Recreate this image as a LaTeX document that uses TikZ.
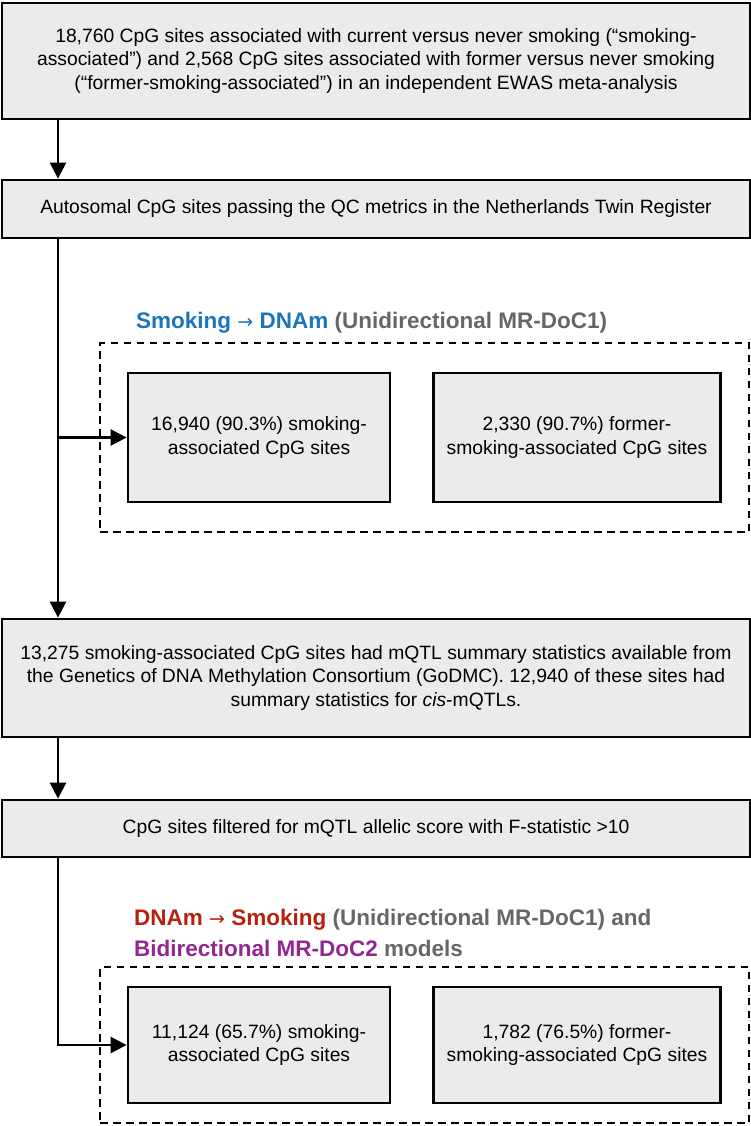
\documentclass[tikz,border=0pt]{standalone}
\usepackage{fontspec}
\setmainfont{Liberation Sans}
\newfontfamily\arrowfont{DejaVu Sans}
\usetikzlibrary{arrows.meta}
\definecolor{boxgray}{HTML}{EBEBEB}
\definecolor{titleblue}{HTML}{1A75BC}
\definecolor{titlered}{HTML}{B5200F}
\definecolor{titlepurple}{HTML}{92278F}
\definecolor{titlegray}{HTML}{666666}
\newcommand{\causes}{{\arrowfont\mdseries\fontsize{19}{31}\selectfont →}}
\tikzset{
  stepbox/.style={draw, line width=2.8pt, fill=boxgray, align=center, inner sep=0pt,
    font=\fontsize{19.3}{23.3}\selectfont},
  groupbox/.style={draw, line width=2.6pt, dash pattern=on 7.5pt off 5.5pt, inner sep=0pt},
  flow/.style={line width=2.6pt, -{Triangle[length=16pt,width=16pt]}},
  grouptitle/.style={anchor=west, align=left, inner sep=0pt,
    font=\fontsize{22.5}{31}\selectfont\bfseries, text=titlegray},
}
\begin{document}
\begin{tikzpicture}[x=1pt,y=-1pt]
  \useasboundingbox (0,0) rectangle (751,1126);
  \coordinate (spine) at (58,0);
  % main steps
  \node[stepbox, minimum width=748pt, minimum height=116pt] (ewas) at (376,61)
    {18,760 CpG sites associated with current versus never smoking (“smoking-\\associated”) and 2,568 CpG sites associated with former versus never smoking\\(“former-smoking-associated”) in an independent EWAS meta-analysis};
  \node[stepbox, minimum width=748pt, minimum height=58pt] (qc) at (376,209)
    {Autosomal CpG sites passing the QC metrics in the Netherlands Twin Register};
  \node[stepbox, minimum width=748pt, minimum height=118pt] (godmc) at (376,678)
    {13,275 smoking-associated CpG sites had mQTL summary statistics available from\\the Genetics of DNA Methylation Consortium (GoDMC). 12,940 of these sites had\\summary statistics for \textit{cis}-mQTLs.};
  \node[stepbox, minimum width=748pt, minimum height=57pt] (fstat) at (376,828.5)
    {CpG sites filtered for mQTL allelic score with F-statistic >10};
  % smoking -> DNAm
  \node[grouptitle] (titleA) at (136,323)
    {\textcolor{titleblue}{Smoking \causes{} DNAm} (Unidirectional MR-DoC1)};
  \node[groupbox, minimum width=649pt, minimum height=189pt] (grpA) at (424.5,437.5) {};
  \node[stepbox, minimum width=262pt, minimum height=129pt] (smkA) at (259,437.5)
    {16,940 (90.3\%) smoking-\\associated CpG sites};
  \node[stepbox, minimum width=287pt, minimum height=129pt] (frmA) at (577,437.5)
    {2,330 (90.7\%) former-\\smoking-associated CpG sites};
  % DNAm -> smoking
  \node[grouptitle] (titleB) at (134,932.5)
    {\textcolor{titlered}{DNAm \causes{} Smoking} (Unidirectional MR-DoC1) and\\\textcolor{titlepurple}{Bidirectional MR-DoC2} models};
  \node[groupbox, minimum width=649pt, minimum height=156pt] (grpB) at (424.5,1045) {};
  \node[stepbox, minimum width=262pt, minimum height=116pt] (smkB) at (259,1045)
    {11,124 (65.7\%) smoking-\\associated CpG sites};
  \node[stepbox, minimum width=287pt, minimum height=116pt] (frmB) at (577,1045)
    {1,782 (76.5\%) former-\\smoking-associated CpG sites};
  % connectors
  \draw[flow] (ewas.south -| spine) -- (qc.north -| spine);
  \draw[flow] (qc.south -| spine) -- (godmc.north -| spine);
  \draw[flow] (spine |- smkA.west) -- (smkA.west);
  \draw[flow] (godmc.south -| spine) -- (fstat.north -| spine);
  \draw[flow] (fstat.south -| spine) |- (smkB.west);
\end{tikzpicture}
\end{document}
